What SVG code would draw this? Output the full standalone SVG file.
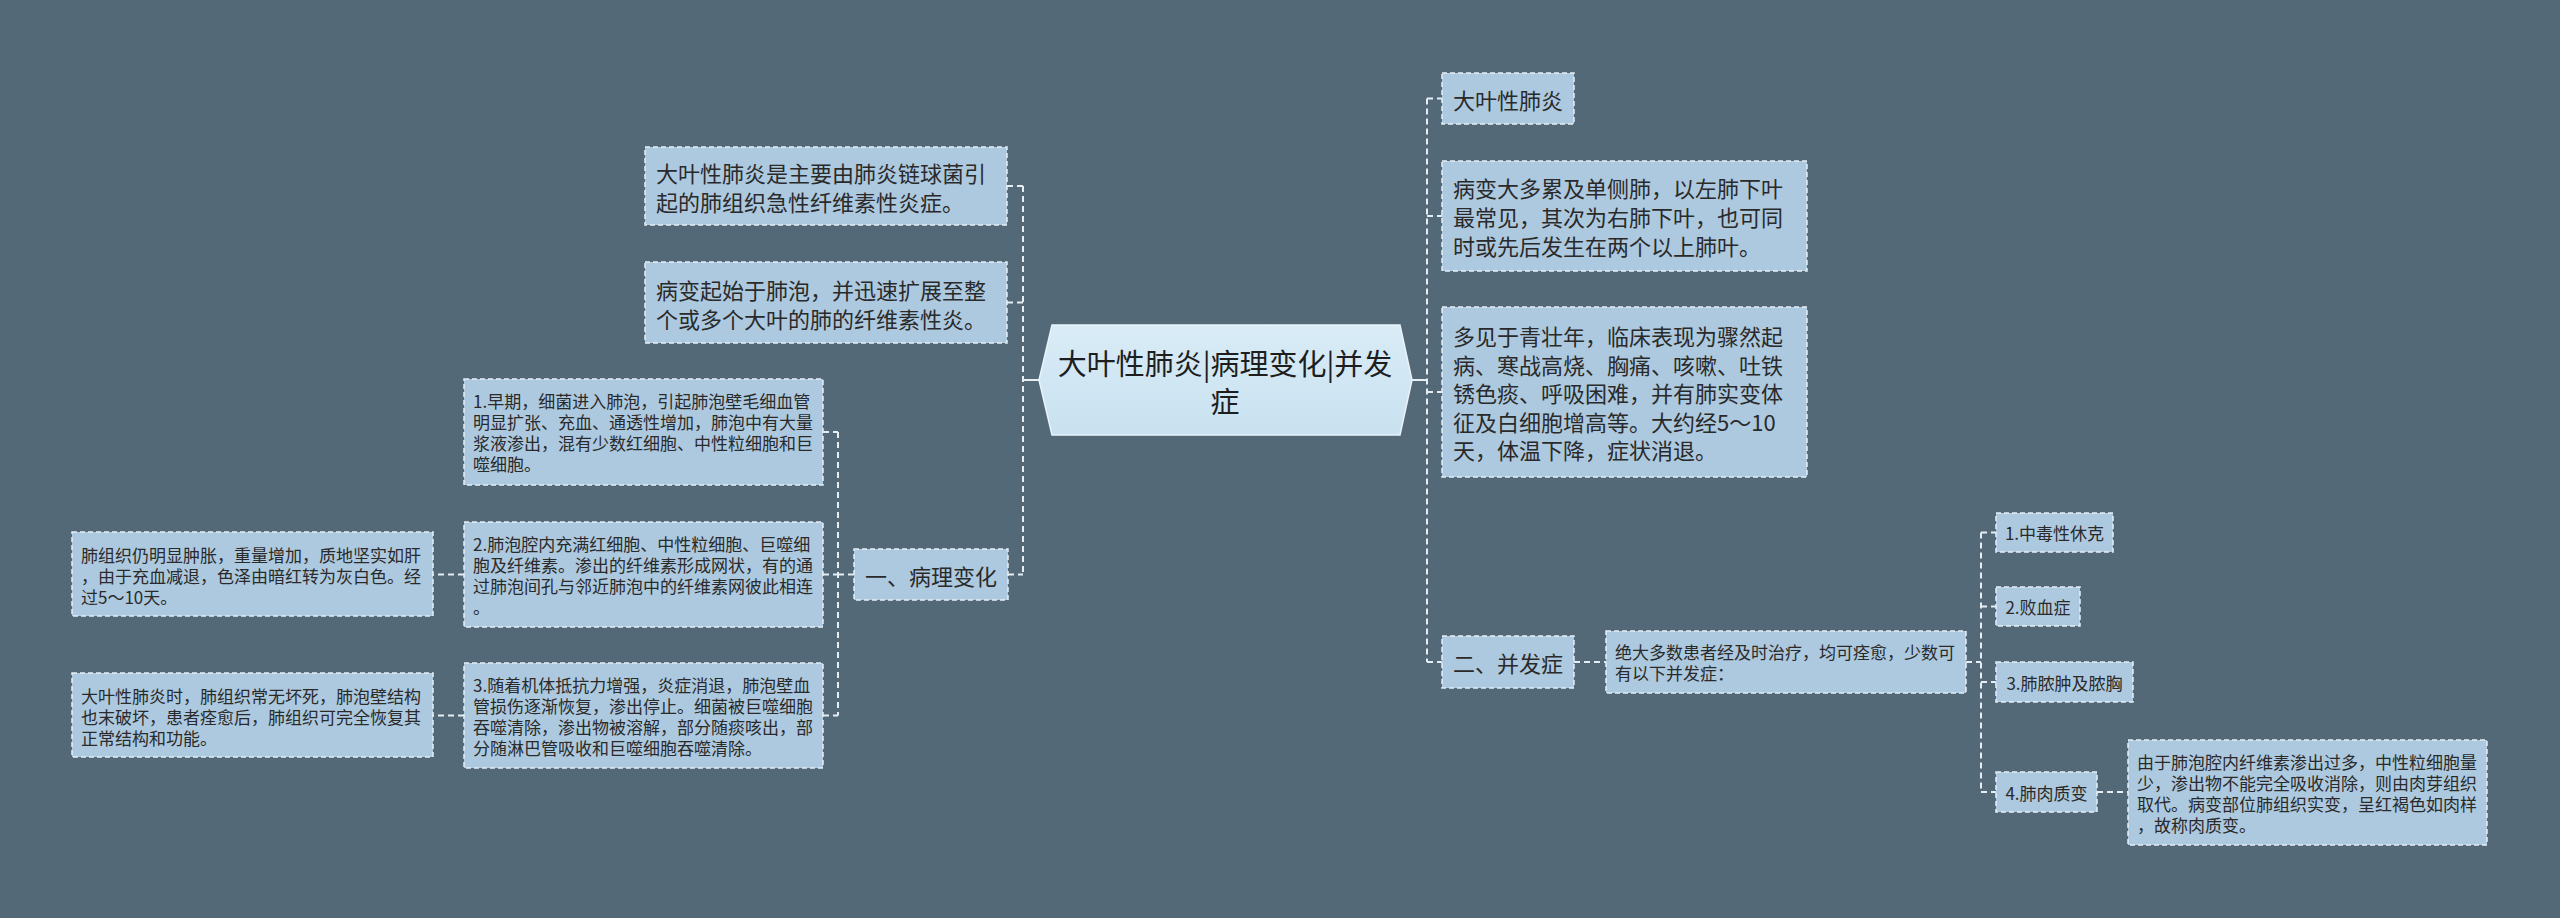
<svg xmlns="http://www.w3.org/2000/svg" width="2560" height="918" viewBox="0 0 2560 918">
<defs>
<linearGradient id="cg" x1="0" y1="0" x2="0" y2="1">
<stop offset="0" stop-color="#d9ecf7"/>
<stop offset="1" stop-color="#c9e1f0"/>
</linearGradient>
<style>
.bg{fill:#546978}
.box{fill:#adc9df;stroke:#e4eef6;stroke-width:1.5;stroke-dasharray:5 3}
.ctr{fill:url(#cg);stroke:#e8f3fa;stroke-width:1.5}
text{font-family:"Noto Sans CJK SC","Noto Sans",sans-serif;fill:#2a2a2a;dominant-baseline:central}
.t22{font-size:22px}
.t17{font-size:17px}
.t29{font-size:29px;fill:#1e1e1e}
.mid{text-anchor:middle}
.ln{fill:none;stroke:#e6edf3;stroke-width:2;stroke-dasharray:6 4}
.sl{fill:none;stroke:#e6edf3;stroke-width:2}
</style>
</defs>
<rect class="bg" x="0" y="0" width="2560" height="918"/>

<g id="connectors">
<path class="sl" d="M1039 380 H1023"/>
<path class="ln" d="M1023 186 V574.5"/>
<path class="ln" d="M1007 186 H1023"/>
<path class="ln" d="M1007 302.5 H1023"/>
<path class="ln" d="M1008 574.5 H1023"/>
<path class="ln" d="M854 574.5 H838"/>
<path class="ln" d="M838 432 V715.5"/>
<path class="ln" d="M823 432 H838"/>
<path class="ln" d="M823 574.5 H838"/>
<path class="ln" d="M823 715.5 H838"/>
<path class="ln" d="M464 574.5 H433"/>
<path class="ln" d="M464 715.5 H433"/>
<path class="sl" d="M1412 380 H1427"/>
<path class="ln" d="M1427 98.5 V662"/>
<path class="ln" d="M1427 98.5 H1442"/>
<path class="ln" d="M1427 216 H1442"/>
<path class="ln" d="M1427 392 H1442"/>
<path class="ln" d="M1427 662 H1442"/>
<path class="ln" d="M1574 662 H1606"/>
<path class="ln" d="M1966 662 H1981"/>
<path class="ln" d="M1981 532.5 V792"/>
<path class="ln" d="M1981 532.5 H1996"/>
<path class="ln" d="M1981 606.5 H1996"/>
<path class="ln" d="M1981 682 H1996"/>
<path class="ln" d="M1981 792 H1996"/>
<path class="ln" d="M2097 792 H2128"/>
</g>

<g id="center">
<polygon class="ctr" points="1052,325 1400,325 1412,380 1400,435 1052,435 1039,380"/>
<text class="t29 mid" x="1225" y="362">大叶性肺炎|病理变化|并发</text>
<text class="t29 mid" x="1225" y="400">症</text>
</g>

<g id="node-a">
<rect class="box" x="645" y="147" width="362" height="78"/>
<text class="t22" x="656" y="172">大叶性肺炎是主要由肺炎链球菌引</text>
<text class="t22" x="656" y="201">起的肺组织急性纤维素性炎症。</text>
</g>

<g id="node-b">
<rect class="box" x="645" y="262" width="362" height="81"/>
<text class="t22" x="656" y="289">病变起始于肺泡，并迅速扩展至整</text>
<text class="t22" x="656" y="318">个或多个大叶的肺的纤维素性炎。</text>
</g>

<g id="node-path">
<rect class="box" x="854" y="549" width="154" height="51"/>
<text class="t22 mid" x="931" y="574.5">一、病理变化</text>
</g>

<g id="node-p1">
<rect class="box" x="464" y="379" width="359" height="106"/>
<text class="t17" x="473" y="400.5">1.早期，细菌进入肺泡，引起肺泡壁毛细血管</text>
<text class="t17" x="473" y="421.5">明显扩张、充血、通透性增加，肺泡中有大量</text>
<text class="t17" x="473" y="442.5">浆液渗出，混有少数红细胞、中性粒细胞和巨</text>
<text class="t17" x="473" y="463.5">噬细胞。</text>
</g>

<g id="node-p2">
<rect class="box" x="464" y="522" width="359" height="105"/>
<text class="t17" x="473" y="543">2.肺泡腔内充满红细胞、中性粒细胞、巨噬细</text>
<text class="t17" x="473" y="564">胞及纤维素。渗出的纤维素形成网状，有的通</text>
<text class="t17" x="473" y="585">过肺泡间孔与邻近肺泡中的纤维素网彼此相连</text>
<text class="t17" x="473" y="606">。</text>
</g>

<g id="node-p3">
<rect class="box" x="464" y="663" width="359" height="105"/>
<text class="t17" x="473" y="684">3.随着机体抵抗力增强，炎症消退，肺泡壁血</text>
<text class="t17" x="473" y="705">管损伤逐渐恢复，渗出停止。细菌被巨噬细胞</text>
<text class="t17" x="473" y="726">吞噬清除，渗出物被溶解，部分随痰咳出，部</text>
<text class="t17" x="473" y="747">分随淋巴管吸收和巨噬细胞吞噬清除。</text>
</g>

<g id="node-l1">
<rect class="box" x="72" y="532" width="361" height="84"/>
<text class="t17" x="81" y="554">肺组织仍明显肿胀，重量增加，质地坚实如肝</text>
<text class="t17" x="81" y="575">，由于充血减退，色泽由暗红转为灰白色。经</text>
<text class="t17" x="81" y="596">过5～10天。</text>
</g>

<g id="node-l2">
<rect class="box" x="72" y="673" width="361" height="84"/>
<text class="t17" x="81" y="695">大叶性肺炎时，肺组织常无坏死，肺泡壁结构</text>
<text class="t17" x="81" y="716">也末破坏，患者痊愈后，肺组织可完全恢复其</text>
<text class="t17" x="81" y="737">正常结构和功能。</text>
</g>

<g id="node-r1">
<rect class="box" x="1442" y="73" width="132" height="51"/>
<text class="t22 mid" x="1508" y="98.5">大叶性肺炎</text>
</g>

<g id="node-r2">
<rect class="box" x="1442" y="161" width="365" height="110"/>
<text class="t22" x="1453" y="187">病变大多累及单侧肺，以左肺下叶</text>
<text class="t22" x="1453" y="216">最常见，其次为右肺下叶，也可同</text>
<text class="t22" x="1453" y="245">时或先后发生在两个以上肺叶。</text>
</g>

<g id="node-r3">
<rect class="box" x="1442" y="307" width="365" height="170"/>
<text class="t22" x="1453" y="335">多见于青壮年，临床表现为骤然起</text>
<text class="t22" x="1453" y="363.5">病、寒战高烧、胸痛、咳嗽、吐铁</text>
<text class="t22" x="1453" y="392">锈色痰、呼吸困难，并有肺实变体</text>
<text class="t22" x="1453" y="420.5">征及白细胞增高等。大约经5～10</text>
<text class="t22" x="1453" y="449">天，体温下降，症状消退。</text>
</g>

<g id="node-comp">
<rect class="box" x="1442" y="636" width="132" height="52"/>
<text class="t22 mid" x="1508" y="662">二、并发症</text>
</g>

<g id="node-comp-desc">
<rect class="box" x="1606" y="631" width="360" height="62"/>
<text class="t17" x="1615" y="651.5">绝大多数患者经及时治疗，均可痊愈，少数可</text>
<text class="t17" x="1615" y="672.5">有以下并发症：</text>
</g>

<g id="node-c1">
<rect class="box" x="1996" y="513" width="117" height="39"/>
<text class="t17 mid" x="2054.5" y="532.5">1.中毒性休克</text>
</g>

<g id="node-c2">
<rect class="box" x="1996" y="587" width="84" height="39"/>
<text class="t17 mid" x="2038" y="606.5">2.败血症</text>
</g>

<g id="node-c3">
<rect class="box" x="1996" y="662" width="137" height="40"/>
<text class="t17 mid" x="2064.5" y="682">3.肺脓肿及脓胸</text>
</g>

<g id="node-c4">
<rect class="box" x="1996" y="772" width="101" height="40"/>
<text class="t17 mid" x="2046.5" y="792">4.肺肉质变</text>
</g>

<g id="node-c4-desc">
<rect class="box" x="2128" y="740" width="359" height="105"/>
<text class="t17" x="2137" y="761">由于肺泡腔内纤维素渗出过多，中性粒细胞量</text>
<text class="t17" x="2137" y="782">少，渗出物不能完全吸收消除，则由肉芽组织</text>
<text class="t17" x="2137" y="803">取代。病变部位肺组织实变，呈红褐色如肉样</text>
<text class="t17" x="2137" y="824">，故称肉质变。</text>
</g>
</svg>
